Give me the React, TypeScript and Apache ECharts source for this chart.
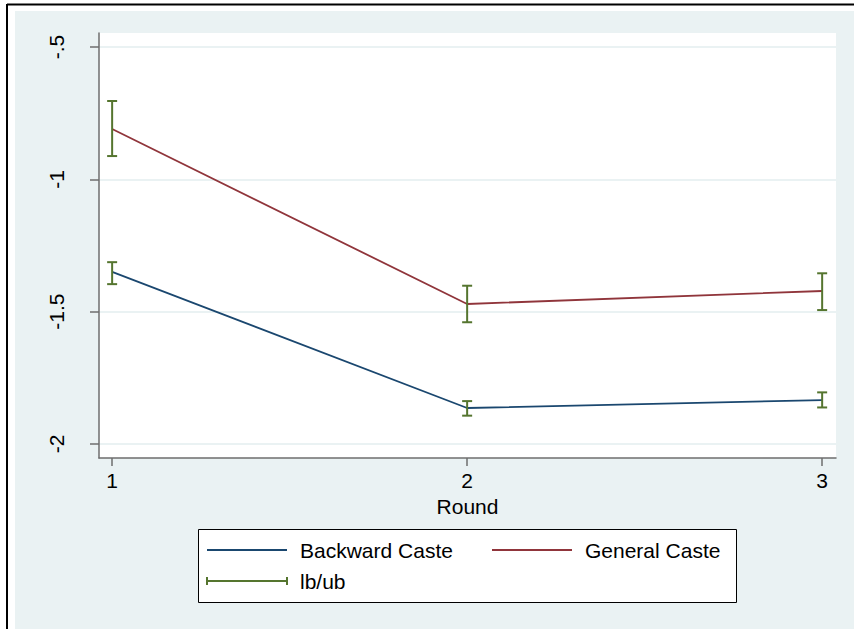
import React, { useEffect, useRef } from "react";
import * as echarts from "echarts";

const rounds = [1, 2, 3];
const xTickLabels = ["1", "2", "3"];
const yTicks = [-2, -1.5, -1, -0.5];
const yTickLabels = ["-2", "-1.5", "-1", "-.5"];
const backwardCaste = [-1.35, -1.864, -1.834];
const generalCaste = [-0.81, -1.471, -1.422];
const backwardLb = [-1.396, -1.893, -1.862];
const backwardUb = [-1.313, -1.838, -1.805];
const generalLb = [-0.912, -1.54, -1.494];
const generalUb = [-0.704, -1.402, -1.355];
const legendLabels = ["Backward Caste", "General Caste", "lb/ub"];

const NAVY = "#1a476f";
const MAROON = "#90353b";
const GREEN = "#55752f";
const BG = "#eaf2f3";
const AXIS = "#6e6e6e";
const FONT = "'Liberation Sans', Arial, sans-serif";
const FS = 21;

export default function App() {
  const ref = useRef<HTMLDivElement>(null);
  useEffect(() => {
    if (!ref.current) return;
    const chart = echarts.init(ref.current, null, { renderer: "svg" });
    const ciData: number[][] = [];
    rounds.forEach((r, i) => ciData.push([r, backwardLb[i], backwardUb[i]]));
    rounds.forEach((r, i) => ciData.push([r, generalLb[i], generalUb[i]]));

    const option: any = {
      animation: false,
      backgroundColor: "#ffffff",
      textStyle: { fontFamily: FONT },
      graphic: [
        { type: "rect", z: -10, shape: { x: 15, y: 11, width: 839, height: 618 }, style: { fill: BG } },
        { type: "line", z: -5, shape: { x1: 7, y1: 4.5, x2: 854, y2: 4.5 }, style: { stroke: "#000", lineWidth: 2 } },
        { type: "line", z: -5, shape: { x1: 7, y1: 4, x2: 7, y2: 629 }, style: { stroke: "#000", lineWidth: 2 } },
        // legend box
        { type: "rect", z: 10, shape: { x: 198.5, y: 529.5, width: 538, height: 73 }, style: { fill: "#fff", stroke: "#000", lineWidth: 1 } },
        { type: "line", z: 11, shape: { x1: 207, y1: 550, x2: 287, y2: 550 }, style: { stroke: NAVY, lineWidth: 2 } },
        { type: "text", z: 11, x: 300, y: 550, style: { text: legendLabels[0], font: `${FS}px ${FONT}`, fill: "#000", textVerticalAlign: "middle" } },
        { type: "line", z: 11, shape: { x1: 492, y1: 550, x2: 572, y2: 550 }, style: { stroke: MAROON, lineWidth: 2 } },
        { type: "text", z: 11, x: 585, y: 550, style: { text: legendLabels[1], font: `${FS}px ${FONT}`, fill: "#000", textVerticalAlign: "middle" } },
        { type: "line", z: 11, shape: { x1: 207, y1: 581, x2: 287, y2: 581 }, style: { stroke: GREEN, lineWidth: 2 } },
        { type: "line", z: 11, shape: { x1: 207, y1: 577, x2: 207, y2: 585 }, style: { stroke: GREEN, lineWidth: 2 } },
        { type: "line", z: 11, shape: { x1: 287, y1: 577, x2: 287, y2: 585 }, style: { stroke: GREEN, lineWidth: 2 } },
        { type: "text", z: 11, x: 300, y: 581, style: { text: legendLabels[2], font: `${FS}px ${FONT}`, fill: "#000", textVerticalAlign: "middle" } },
      ],
      grid: {
        left: 99,
        top: 33,
        right: 18,
        bottom: 171,
        show: true,
        backgroundColor: "#ffffff",
        borderWidth: 0,
      },
      xAxis: {
        type: "value",
        min: 0.963,
        max: 3.039,
        name: "Round",
        nameLocation: "middle",
        nameGap: 35,
        nameTextStyle: { fontSize: FS, color: "#000", fontFamily: FONT, verticalAlign: "top" },
        axisLine: { show: true, onZero: false, lineStyle: { color: AXIS, width: 1.5 } },
        axisTick: { show: true, length: 8, customValues: rounds, lineStyle: { color: AXIS, width: 1.5 } },
        axisLabel: {
          customValues: rounds,
          margin: 12,
          fontSize: FS,
          color: "#000",
          fontFamily: FONT,
          formatter: (v: number) => xTickLabels[rounds.indexOf(v)] ?? "",
        },
        splitLine: { show: false },
      },
      yAxis: {
        type: "value",
        min: -2.053,
        max: -0.447,
        axisLine: { show: true, onZero: false, lineStyle: { color: AXIS, width: 1.5 } },
        axisTick: { show: true, length: 9, customValues: yTicks, lineStyle: { color: AXIS, width: 1.5 } },
        axisLabel: {
          customValues: yTicks,
          rotate: 90,
          margin: 32,
          fontSize: FS,
          color: "#000",
          fontFamily: FONT,
          formatter: (v: number) => {
            const i = yTicks.findIndex((t) => Math.abs(t - v) < 1e-9);
            return i >= 0 ? yTickLabels[i] : "";
          },
        },
        splitLine: { show: true, lineStyle: { color: BG, width: 2 } },
      },
      series: [
        {
          name: legendLabels[0],
          type: "line",
          data: rounds.map((r, i) => [r, backwardCaste[i]]),
          showSymbol: false,
          lineStyle: { color: NAVY, width: 1.8 },
          itemStyle: { color: NAVY },
          z: 3,
        },
        {
          name: legendLabels[1],
          type: "line",
          data: rounds.map((r, i) => [r, generalCaste[i]]),
          showSymbol: false,
          lineStyle: { color: MAROON, width: 1.8 },
          itemStyle: { color: MAROON },
          z: 3,
        },
        {
          name: legendLabels[2],
          type: "custom",
          z: 4,
          data: ciData,
          encode: { x: 0, y: [1, 2] },
          renderItem: (params: any, api: any) => {
            const x = api.value(0);
            const lo = api.coord([x, api.value(1)]);
            const hi = api.coord([x, api.value(2)]);
            const hw = 5;
            const style = { stroke: GREEN, lineWidth: 2 };
            return {
              type: "group",
              children: [
                { type: "line", shape: { x1: lo[0], y1: lo[1], x2: hi[0], y2: hi[1] }, style },
                { type: "line", shape: { x1: lo[0] - hw, y1: lo[1], x2: lo[0] + hw, y2: lo[1] }, style },
                { type: "line", shape: { x1: hi[0] - hw, y1: hi[1], x2: hi[0] + hw, y2: hi[1] }, style },
              ],
            };
          },
        },
      ],
    };
    chart.setOption(option);
    return () => chart.dispose();
  }, []);
  return (
    <div
      ref={ref}
      style={{ position: "fixed", left: 0, top: 0, width: 854, height: 629 }}
    />
  );
}
